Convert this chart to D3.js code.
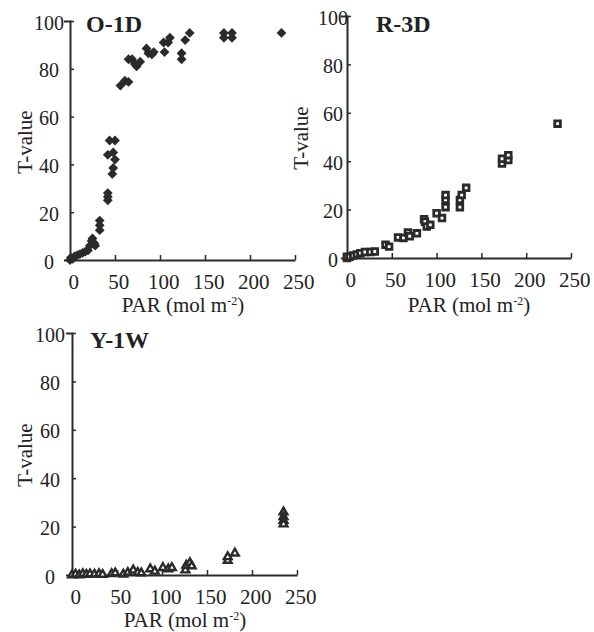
<!DOCTYPE html>
<html><head><meta charset="utf-8">
<title>T-value vs PAR</title>
<script src="https://d3js.org/d3.v7.min.js"></script>
<style>
  body { margin: 0; background: #fff; }
  svg text { font-family: "Liberation Serif", "Times New Roman", serif; fill: #222; }
</style>
</head>
<body>
<svg width="594" height="632"></svg>
<script>
// O-1D (diamonds)
let o1dPar = [0, 1, 3, 5, 8, 11, 14, 17, 20, 22, 24, 25, 27, 28,
  33, 33, 33, 42, 42, 42,
  44, 50, 42, 48, 50, 48, 47,
  56, 61, 65, 65, 69, 72, 74, 78,
  85, 87, 91, 93, 104, 105, 109, 111,
  124, 124, 128, 133, 171, 171, 180, 180, 235];
let o1dT = [0, 1, 0.5, 1.5, 2, 2.5, 3, 3.5, 4, 6, 8, 9, 7, 6,
  12.5, 14.5, 16.5, 25, 26.5, 28,
  50, 50, 44, 45, 42, 38.5, 36,
  73, 75, 74.5, 84, 84, 82, 81, 83,
  88.5, 86.5, 86, 87, 91, 87, 91, 93,
  86.5, 84, 92, 95, 95, 93, 95, 93, 95];

// R-3D (open squares)
let r3dPar = [0, 0, 3, 7, 11, 15, 20, 26, 31, 43, 47, 57, 63, 68, 70, 78,
  86, 87, 89, 93, 100, 106, 110, 110, 110, 126, 126, 128, 133,
  173, 173, 180, 180, 235];
let r3dT = [0, 0.5, 0.5, 1, 1.5, 2, 2.5, 2.5, 2.7, 5.5, 4.7, 8.5, 8.3, 10.5, 9, 10.2,
  16, 15, 13, 13.7, 18.5, 16.5, 21, 24, 26, 21, 24, 26, 29,
  39, 41, 40.5, 42.5, 55.5];

// Y-1W (open triangles)
let y1wPar = [0, 4, 8, 12, 16, 20, 25, 30, 34, 44, 48, 57, 62, 68, 73, 77,
  87, 92, 101, 107, 111, 126, 127, 131, 133, 173, 173, 181,
  235, 235, 235, 235];
let y1wT = [0, 0.3, 0, 0.5, 0.2, 0.4, 0.3, 0.5, 0.2, 0.5, 0.8, 0.3, 1, 2, 1, 0.8,
  2.5, 1.5, 3, 2.5, 3, 2, 4, 5, 3.7, 6, 7.5, 9,
  26, 24, 22.5, 21];

let xTicks = [0, 50, 100, 150, 200, 250];
let yTicks = [0, 20, 40, 60, 80, 100];

let ink = "#2a2a2a";
let serif = "'Liberation Serif', 'Times New Roman', Times, serif";
let svg = d3.select("svg");

let panels = [
  {name: "O-1D", par: o1dPar, t: o1dT, shape: "diamond",
   x0: 70, x1: 295, y0: 260, y1: 21, ylab: 21, tx: 86, ty: 32, ax: 32, ay: 142, px: 183, py: 312},
  {name: "R-3D", par: r3dPar, t: r3dT, shape: "square",
   x0: 347, x1: 571, y0: 258, y1: 16, ylab: 14, tx: 376, ty: 32, ax: 308, ay: 138, px: 469, py: 312},
  {name: "Y-1W", par: y1wPar, t: y1wT, shape: "triangle",
   x0: 72, x1: 297, y0: 575, y1: 333, ylab: 22, tx: 90, ty: 348, ax: 32, ay: 455, px: 185, py: 627}
];

panels.forEach(function(p) {
  let x = d3.scaleLinear().domain([0, 250]).range([p.x0, p.x1]);
  let y = d3.scaleLinear().domain([0, 100]).range([p.y0, p.y1]);
  let g = svg.append("g");

  // x axis, ticks pointing up
  let xa = g.append("g")
      .attr("transform", "translate(0," + p.y0 + ")")
      .call(d3.axisBottom(x).tickValues(xTicks).tickSizeInner(-5).tickSizeOuter(0).tickPadding(14));
  xa.attr("font-family", null);
  xa.selectAll("text").style("font-family", serif).style("font-size", "21px").attr("dx", "0.15em");

  // y axis, small inner ticks and outer tick at the top
  let ya = g.append("g")
      .attr("transform", "translate(" + p.x0 + ",0)")
      .call(d3.axisLeft(y).tickValues(yTicks).tickSizeInner(-4).tickSizeOuter(6));
  ya.attr("font-family", null);
  ya.selectAll("text")
      .style("font-family", serif)
      .style("font-size", "20px")
      .attr("text-anchor", "middle")
      .attr("x", -p.ylab)
      .attr("dy", "0.4em");

  g.selectAll(".domain").attr("stroke", ink).attr("stroke-width", 2);
  g.selectAll(".tick line").attr("stroke", ink).attr("stroke-width", 1.5);

  // labels
  g.append("text")
      .attr("transform", "translate(" + p.ax + "," + p.ay + ") rotate(-90)")
      .attr("text-anchor", "middle")
      .style("font-family", serif)
      .style("font-size", "21px")
      .text("T-value");

  let xl = g.append("text")
      .attr("x", p.px).attr("y", p.py)
      .attr("text-anchor", "middle")
      .style("font-family", serif)
      .style("font-size", "21px");
  xl.append("tspan").text("PAR (mol m");
  xl.append("tspan").attr("dy", -7).style("font-size", "12px").text("-2");
  xl.append("tspan").attr("dy", 7).text(")");

  g.append("text")
      .attr("x", p.tx).attr("y", p.ty)
      .style("font-family", serif)
      .style("font-size", "24px")
      .style("font-weight", "bold")
      .text(p.name);

  // points
  let pts = p.par.map(function(v, i) { return [v, p.t[i]]; });
  let marks = g.append("g").selectAll("path").data(pts).join("path")
      .attr("transform", function(d) {
        let r = p.shape === "diamond" ? " rotate(45)" : "";
        return "translate(" + x(d[0]) + "," + y(d[1]) + ")" + r;
      });
  if (p.shape === "diamond") {
    marks.attr("d", d3.symbol(d3.symbolSquare, 48)).attr("fill", ink);
  } else if (p.shape === "square") {
    marks.attr("d", d3.symbol(d3.symbolSquare, 32))
        .attr("fill", "#fff").attr("stroke", ink).attr("stroke-width", 2.8);
  } else {
    marks.attr("d", d3.symbol(d3.symbolTriangle, 26))
        .attr("fill", "#fff").attr("stroke", ink).attr("stroke-width", 2.4);
  }
});
</script>
</body>
</html>
